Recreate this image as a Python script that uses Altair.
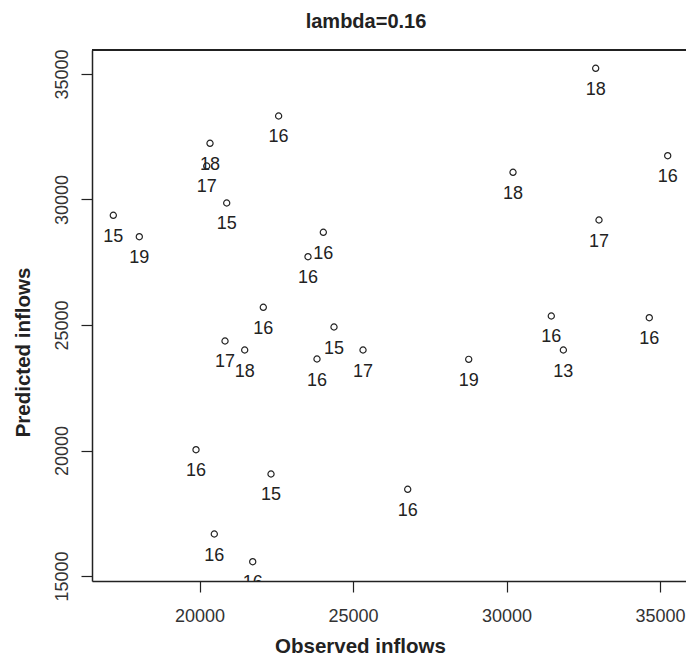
import altair as alt
import pandas as pd

# Observed vs. predicted inflows, each point tagged with its group number
observed = [17192, 18039, 20342, 20235, 20886, 22577, 24033, 23534, 22078,
            20831, 21472, 24381, 23827, 25326, 19886, 22329, 26782, 20482,
            21733, 32905, 35251, 30212, 33013, 31459, 34651, 31852, 28769]
predicted = [29371, 28518, 32239, 31335, 29861, 33327, 28693, 27721, 25705,
             24363, 24004, 24920, 23645, 24004, 20032, 19064, 18454, 16673,
             15570, 35227, 31745, 31084, 29183, 25359, 25291, 24004, 23633]
tags = [15, 19, 18, 17, 15, 16, 16, 16, 16,
        17, 18, 15, 16, 17, 16, 15, 16, 16,
        16, 18, 16, 18, 17, 16, 16, 13, 19]

x_ticks = [20000, 25000, 30000, 35000]
y_ticks = [15000, 20000, 25000, 30000, 35000]
x_range = [16498, 35847]
y_range = [14801, 35956]

df = pd.DataFrame({"observed": observed, "predicted": predicted, "tag": tags})

W, H = 594, 531
FONT = "Liberation Sans"
INK = "#222222"

x_enc = alt.X(
    "observed:Q",
    scale=alt.Scale(domain=x_range, nice=False, zero=False),
    axis=alt.Axis(
        values=x_ticks, format="d", grid=False,
        domainColor=INK, domainWidth=1.5,
        tickColor=INK, tickWidth=1.2, tickSize=11,
        labelFont=FONT, labelFontSize=18, labelColor="#333333",
        labelPadding=15, labelBaseline="top",
        title="Observed inflows", titleFont=FONT, titleFontSize=20.5,
        titleFontWeight="bold", titleColor=INK,
        titleX=268, titleY=71, titleAlign="center", titleBaseline="alphabetic",
    ),
)
y_enc = alt.Y(
    "predicted:Q",
    scale=alt.Scale(domain=y_range, nice=False, zero=False),
    axis=alt.Axis(
        values=y_ticks, format="d", grid=False,
        domainColor=INK, domainWidth=1.5,
        tickColor=INK, tickWidth=1.2, tickSize=11,
        labelFont=FONT, labelFontSize=18, labelColor="#333333",
        labelAngle=-90, labelAlign="center", labelBaseline="alphabetic",
        labelPadding=14,
        title="Predicted inflows", titleFont=FONT, titleFontSize=20.5,
        titleFontWeight="bold", titleColor=INK, titleAngle=-90,
        titleX=-63, titleY=302, titleAlign="center", titleBaseline="alphabetic",
    ),
)

base = alt.Chart(df)

points = base.mark_point(
    shape="circle", filled=False, size=38, strokeWidth=1.2, color=INK, opacity=1
).encode(x=x_enc, y=y_enc)

labels = base.mark_text(
    font=FONT, fontSize=18, color=INK, baseline="alphabetic", dy=26.5, clip=True
).encode(x="observed:Q", y="predicted:Q", text="tag:Q")

# top edge of the plot frame
top_edge = base.mark_rule(color=INK, strokeWidth=1.5).encode(
    x=alt.value(0), x2=alt.value(W), y=alt.value(0)
)

chart = (
    alt.layer(points, labels, top_edge)
    .properties(
        width=W,
        height=H,
        title=alt.TitleParams(
            "lambda=0.16", font=FONT, fontSize=20, fontWeight="bold",
            color=INK, anchor="middle", dx=-23, dy=20, offset=17,
            baseline="bottom",
        ),
        autosize=alt.AutoSizeParams(type="none"),
        padding={"left": 92, "top": 50, "right": 0, "bottom": 79},
    )
    .configure_view(stroke=None)
    .configure(background="white")
)

chart.save("out.html", embed_options={"renderer": "svg", "actions": False})
